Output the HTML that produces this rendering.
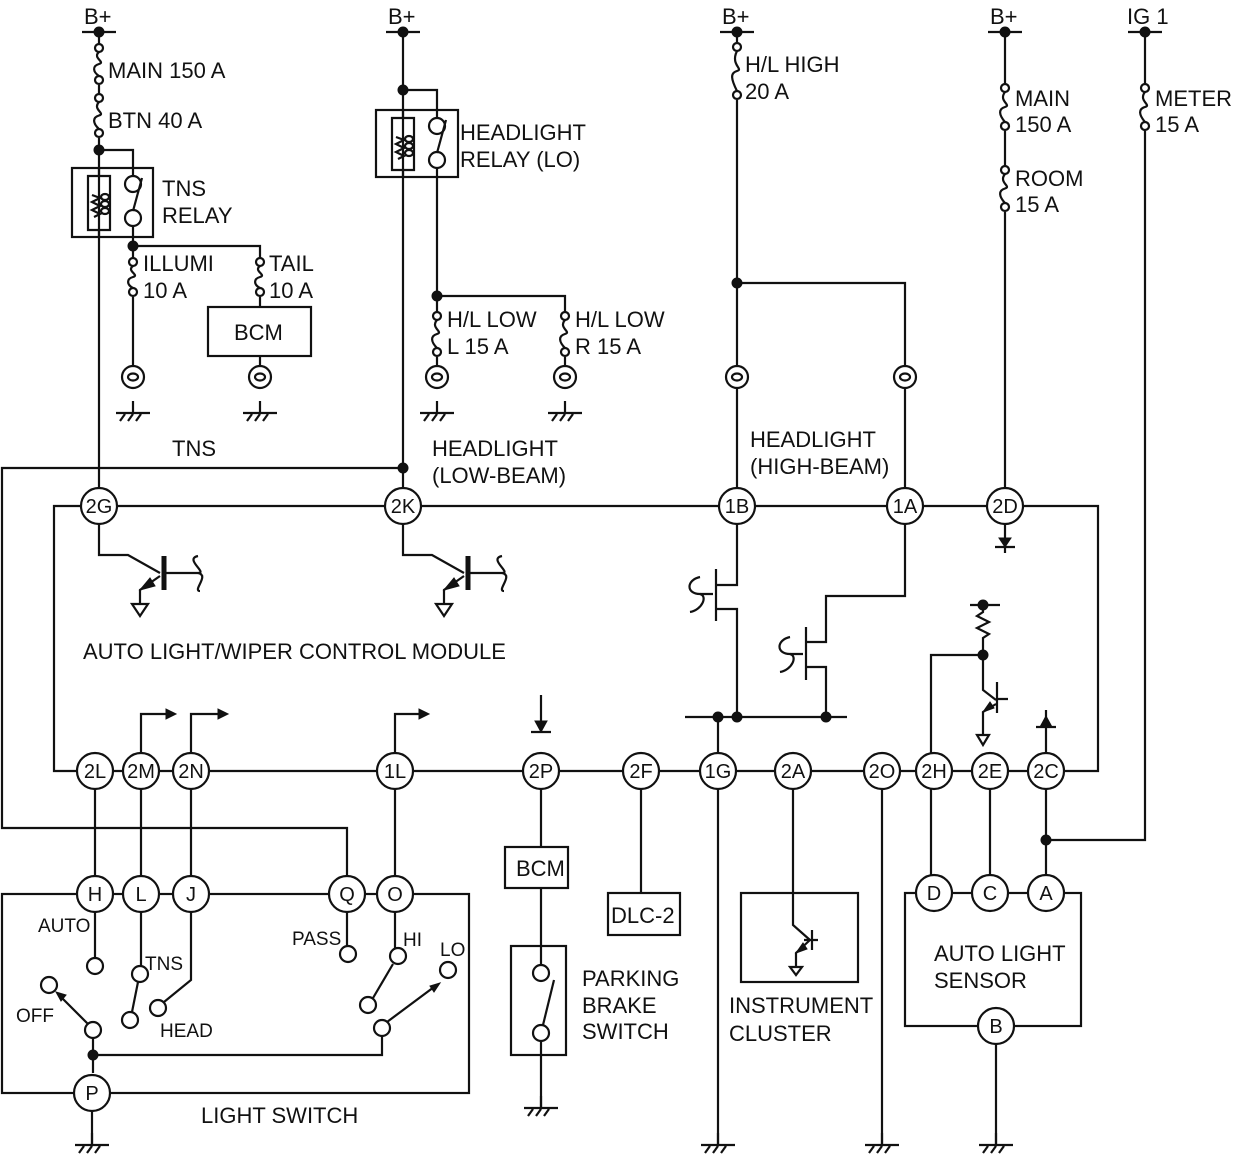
<!DOCTYPE html>
<html><head><meta charset="utf-8"><style>
html,body{margin:0;padding:0;background:#fff}
svg{display:block}
text{font-family:"Liberation Sans",Arial,sans-serif;font-size:22px;fill:#111}
.c{font-size:20px;text-anchor:middle}
.s{font-size:19px}
</style></head><body>
<svg id="s" width="1240" height="1158" viewBox="0 0 1240 1158" xmlns="http://www.w3.org/2000/svg">
<g id="g" fill="none" stroke="#111" stroke-width="2.2">
<path d="M54 506H1098V771H54Z"/>
<path d="M99 32V506M99 150H133V184M133 218V377M133 246H260V377M260 307"/>
<path d="M403 32V506M403 90H437V126M437 160V377M437 296H565V377"/>
<path d="M403 468H2V828H347V894"/>
<path d="M737 32V506M737 283H905V506"/>
<path d="M1005 32V506M1145 32V840H1046"/>
<rect x="72" y="168" width="81" height="69"/>
<rect x="376" y="110" width="82" height="67"/>
<rect x="208" y="307" width="103" height="49" fill="#fff"/>
<rect x="2" y="894" width="467" height="199"/>
<rect x="505" y="847" width="63" height="41" fill="#fff"/>
<rect x="511" y="946" width="55" height="109"/>
<rect x="608" y="893" width="72" height="42" fill="#fff"/>
<rect x="741" y="893" width="117" height="89"/>
<rect x="905" y="893" width="176" height="133"/>
<path d="M99 168V176M88 176H110V230H88ZM99 230V237"/>
<path d="M403 110V118M392 118H414V170H392ZM403 170V177"/>
<path d="M99 524V555H128L160 573M164 573H198M160 576L140 590V604M132 604H148L140 616Z" />
<path d="M403 524V555H432L464 573M468 573H502M464 576L444 590V604M436 604H452L444 616Z" />
<path d="M164 556V590M468 556V590" stroke-width="5"/>
<path d="M737 524V585H716M716 569V621M716 609H737V717M713 594H700"/>
<path d="M905 524V596H826V642H806M806 627V680M806 667H826V717M803 654H790"/>
<path d="M685 717H847M718 717V753"/>
<path d="M970 605H1000M983 605V612L977 616L989 622L977 628L989 634L983 638V690L996 700M997 682V713M997 699H1008M996 704L983 712V735M977 735H989L983 745Z M931 753V655H983"/>
<path d="M1005 524V553M995 547H1015M1046 753V710M1036 727H1056"/>
<path d="M541 695V732M531 732H551"/>
<path d="M141 753V714H168M191 753V714H220M395 753V714H421"/>
<path d="M95 789V876M141 789V876M191 789V876M395 789V876M541 789V847M541 888V965M541 1041V1108M641 789V893M718 789V1145M793 789V925L810 940M812 930V950M804 940H818M810 940L796 953V967M790 967H802L796 975ZM882 789V1145M931 789V875M990 789V875M1046 789V875M996 1044V1145"/>
<path d="M92 1111V1145"/>
<path d="M95 912V958M141 912V966M138 982L132 1012M191 912V980L164 1002M347 912V946M395 912V948M393 964L373 998M93 1022V1073M93 1055H382V1036M387 1022L434 987M88 1024L60 996"/>
</g>
<g id="f" fill="#111" stroke="#111" stroke-width="1">
<path d="M1005 547L999 538H1011Z"/>
<path d="M1046 716L1040 727H1052Z"/>
<path d="M541 732L535 721H547Z"/>
<path d="M176 714L166 709V719Z"/><path d="M228 714L218 709V719Z"/><path d="M429 714L419 709V719Z"/>
<path d="M140 590L150 578L155 586Z"/><path d="M444 590L454 578L459 586Z"/>
<path d="M983 712L990 702L994 708Z"/>
<path d="M796 953L803 943L807 949Z"/>
<path d="M440 983L430 986L434 992Z"/>
<path d="M56 992L66 995L61 1001Z"/>
<circle cx="99" cy="32" r="5"/><circle cx="403" cy="32" r="5"/><circle cx="737" cy="32" r="5"/><circle cx="1005" cy="32" r="5"/><circle cx="1145" cy="32" r="5"/>
<circle cx="99" cy="150" r="5"/><circle cx="133" cy="246" r="5"/><circle cx="403" cy="90" r="5"/><circle cx="437" cy="296" r="5"/><circle cx="737" cy="283" r="5"/>
<circle cx="403" cy="468" r="5"/><circle cx="1046" cy="840" r="5"/><circle cx="983" cy="605" r="5"/><circle cx="983" cy="655" r="5"/>
<circle cx="718" cy="717" r="5"/><circle cx="737" cy="717" r="5"/><circle cx="826" cy="717" r="5"/><circle cx="93" cy="1055" r="5"/>
</g>
<g id="dyn" fill="none" stroke="#111" stroke-width="2.2"></g>
<g id="t">
<text x="84" y="24">B+</text><text x="388" y="24">B+</text><text x="722" y="24">B+</text><text x="990" y="24">B+</text><text x="1127" y="24">IG 1</text>
<text x="108" y="78">MAIN 150 A</text><text x="108" y="128">BTN 40 A</text>
<text x="162" y="196">TNS</text><text x="162" y="223">RELAY</text>
<text x="143" y="271">ILLUMI</text><text x="143" y="298">10 A</text>
<text x="269" y="271">TAIL</text><text x="269" y="298">10 A</text>
<text x="234" y="340">BCM</text>
<text x="460" y="140">HEADLIGHT</text><text x="460" y="167">RELAY (LO)</text>
<text x="447" y="327">H/L LOW</text><text x="447" y="354">L 15 A</text>
<text x="575" y="327">H/L LOW</text><text x="575" y="354">R 15 A</text>
<text x="745" y="72">H/L HIGH</text><text x="745" y="99">20 A</text>
<text x="1015" y="106">MAIN</text><text x="1015" y="132">150 A</text>
<text x="1015" y="186">ROOM</text><text x="1015" y="212">15 A</text>
<text x="1155" y="106">METER</text><text x="1155" y="132">15 A</text>
<text x="172" y="456">TNS</text>
<text x="432" y="456">HEADLIGHT</text><text x="432" y="483">(LOW-BEAM)</text>
<text x="750" y="447">HEADLIGHT</text><text x="750" y="474">(HIGH-BEAM)</text>
<text x="83" y="659">AUTO LIGHT/WIPER CONTROL MODULE</text>
<text x="516" y="876">BCM</text><text x="611" y="923">DLC-2</text>
<text x="582" y="986">PARKING</text><text x="582" y="1013">BRAKE</text><text x="582" y="1039">SWITCH</text>
<text x="729" y="1013">INSTRUMENT</text><text x="729" y="1041">CLUSTER</text>
<text x="934" y="961">AUTO LIGHT</text><text x="934" y="988">SENSOR</text>
<text x="201" y="1123">LIGHT SWITCH</text>
<text class="s" x="38" y="932">AUTO</text><text class="s" x="145" y="970">TNS</text>
<text class="s" x="160" y="1037">HEAD</text><text class="s" x="16" y="1022">OFF</text>
<text class="s" x="292" y="945">PASS</text><text class="s" x="403" y="946">HI</text><text class="s" x="440" y="956">LO</text>
</g>
<g id="cn" fill="#fff" stroke="#111" stroke-width="2.2">
<circle cx="99" cy="506" r="18"/><circle cx="403" cy="506" r="18"/><circle cx="737" cy="506" r="18"/><circle cx="905" cy="506" r="18"/><circle cx="1005" cy="506" r="18"/>
<circle cx="95" cy="771" r="18"/><circle cx="141" cy="771" r="18"/><circle cx="191" cy="771" r="18"/><circle cx="395" cy="771" r="18"/><circle cx="541" cy="771" r="18"/><circle cx="641" cy="771" r="18"/><circle cx="718" cy="771" r="18"/><circle cx="793" cy="771" r="18"/><circle cx="882" cy="771" r="18"/><circle cx="934" cy="771" r="18"/><circle cx="990" cy="771" r="18"/><circle cx="1046" cy="771" r="18"/>
<circle cx="95" cy="894" r="18"/><circle cx="141" cy="894" r="18"/><circle cx="191" cy="894" r="18"/><circle cx="347" cy="894" r="18"/><circle cx="395" cy="894" r="18"/><circle cx="92" cy="1093" r="18"/>
<circle cx="934" cy="893" r="18"/><circle cx="990" cy="893" r="18"/><circle cx="1046" cy="893" r="18"/><circle cx="996" cy="1026" r="18"/>
</g>
<g id="cl">
<text class="c" x="99" y="513">2G</text><text class="c" x="403" y="513">2K</text><text class="c" x="737" y="513">1B</text><text class="c" x="905" y="513">1A</text><text class="c" x="1005" y="513">2D</text>
<text class="c" x="95" y="778">2L</text><text class="c" x="141" y="778">2M</text><text class="c" x="191" y="778">2N</text><text class="c" x="395" y="778">1L</text><text class="c" x="541" y="778">2P</text><text class="c" x="641" y="778">2F</text><text class="c" x="718" y="778">1G</text><text class="c" x="793" y="778">2A</text><text class="c" x="882" y="778">2O</text><text class="c" x="934" y="778">2H</text><text class="c" x="990" y="778">2E</text><text class="c" x="1046" y="778">2C</text>
<text class="c" x="95" y="901">H</text><text class="c" x="141" y="901">L</text><text class="c" x="191" y="901">J</text><text class="c" x="347" y="901">Q</text><text class="c" x="395" y="901">O</text><text class="c" x="92" y="1100">P</text>
<text class="c" x="934" y="900">D</text><text class="c" x="990" y="900">C</text><text class="c" x="1046" y="900">A</text><text class="c" x="996" y="1033">B</text>
</g>
</svg>
<script>
var d=document.getElementById('dyn'),N='http://www.w3.org/2000/svg';
function el(t,a){var e=document.createElementNS(N,t);for(var k in a)e.setAttribute(k,a[k]);d.appendChild(e);return e;}
function fuse(x,y1,y2){el('rect',{x:x-6,y:y1-5,width:12,height:y2-y1+10,fill:'#fff',stroke:'none'});
 el('circle',{cx:x,cy:y1,r:4,fill:'#fff'});el('circle',{cx:x,cy:y2,r:4,fill:'#fff'});
 var m=(y1+y2)/2;el('path',{d:'M'+x+' '+(y1+4)+'C'+(x-7)+' '+(m-6)+' '+(x+7)+' '+(m-2)+' '+x+' '+m+'S'+(x-6)+' '+(m+8)+' '+x+' '+(y2-4)});}
function bulb(x,y){el('circle',{cx:x,cy:y,r:11,fill:'#fff'});el('ellipse',{cx:x,cy:y,rx:5,ry:3.5});}
function gnd(x,y){el('path',{d:'M'+x+' '+(y-12)+'V'+y+'M'+(x-17)+' '+y+'H'+(x+17)+'M'+(x-8)+' '+(y+1)+'L'+(x-13)+' '+(y+8)+'M'+x+' '+(y+1)+'L'+(x-5)+' '+(y+8)+'M'+(x+8)+' '+(y+1)+'L'+(x+3)+' '+(y+8)});}
function bar(x,y){el('path',{d:'M'+(x-17)+' '+y+'H'+(x+17)});}
function sc(x,y){el('circle',{cx:x,cy:y,r:8,fill:'#fff'});}
function wave(x,y){el('path',{d:'M'+x+' '+(y-17)+'C'+(x-14)+' '+(y-14)+' '+(x+10)+' '+y+' '+x+' '+y+'C'+(x+12)+' '+(y+2)+' '+(x-6)+' '+(y+18)+' '+(x+2)+' '+(y+18)});}
function lwave(x,y){el('path',{d:'M'+(x)+' '+(y-17)+'C'+(x-14)+' '+(y-14)+' '+(x-14)+' '+(y)+' '+x+' '+y+'C'+(x+8)+' '+(y+2)+' '+(x+2)+' '+(y+16)+' '+(x-10)+' '+(y+18)});}
[99,403,737,1005,1145].forEach(function(x){bar(x,32);});
fuse(99,48,80);fuse(99,98,133);fuse(133,262,292);fuse(260,262,292);
fuse(437,316,352);fuse(565,316,352);fuse(737,47,95);fuse(1005,88,126);fuse(1005,170,207);fuse(1145,88,126);
[133,260,437,565,737,905].forEach(function(x){bulb(x,377);});
[133,260,437,565].forEach(function(x){gnd(x,413);});
[92,541,718,882,996].forEach(function(x){gnd(x,x==541?1108:1145);});
function relay(cx,top,sx,s1,s2){
 el('path',{d:'M'+(cx-5)+' '+(top+12)+'L'+(cx+3)+' '+(top+15)+'L'+(cx-5)+' '+(top+19)+'L'+(cx+3)+' '+(top+23)+'L'+(cx-5)+' '+(top+27)+'L'+(cx+3)+' '+(top+31)+'L'+(cx-3)+' '+(top+34)});
 for(var i=0;i<3;i++)el('ellipse',{cx:cx+8,cy:top+14+i*7,rx:4,ry:3});
 sc(sx,s1);sc(sx,s2);el('path',{d:'M'+(sx)+' '+(s2-7)+'L'+(sx+9)+' '+(s1-6)});}
relay(97,183,133,184,218);relay(401,125,437,126,160);
sc(541,973);sc(541,1033);el('path',{d:'M543 1025L554 980'});
lwave(700,594);lwave(790,654);wave(198,573);wave(502,573);
[[95,966],[140,974],[130,1020],[158,1008],[49,985],[93,1030],[382,1028],[448,970],[398,956],[368,1005],[348,954]].forEach(function(p){el('circle',{cx:p[0],cy:p[1],r:8,fill:'#fff'});});
</script>
</body></html>
